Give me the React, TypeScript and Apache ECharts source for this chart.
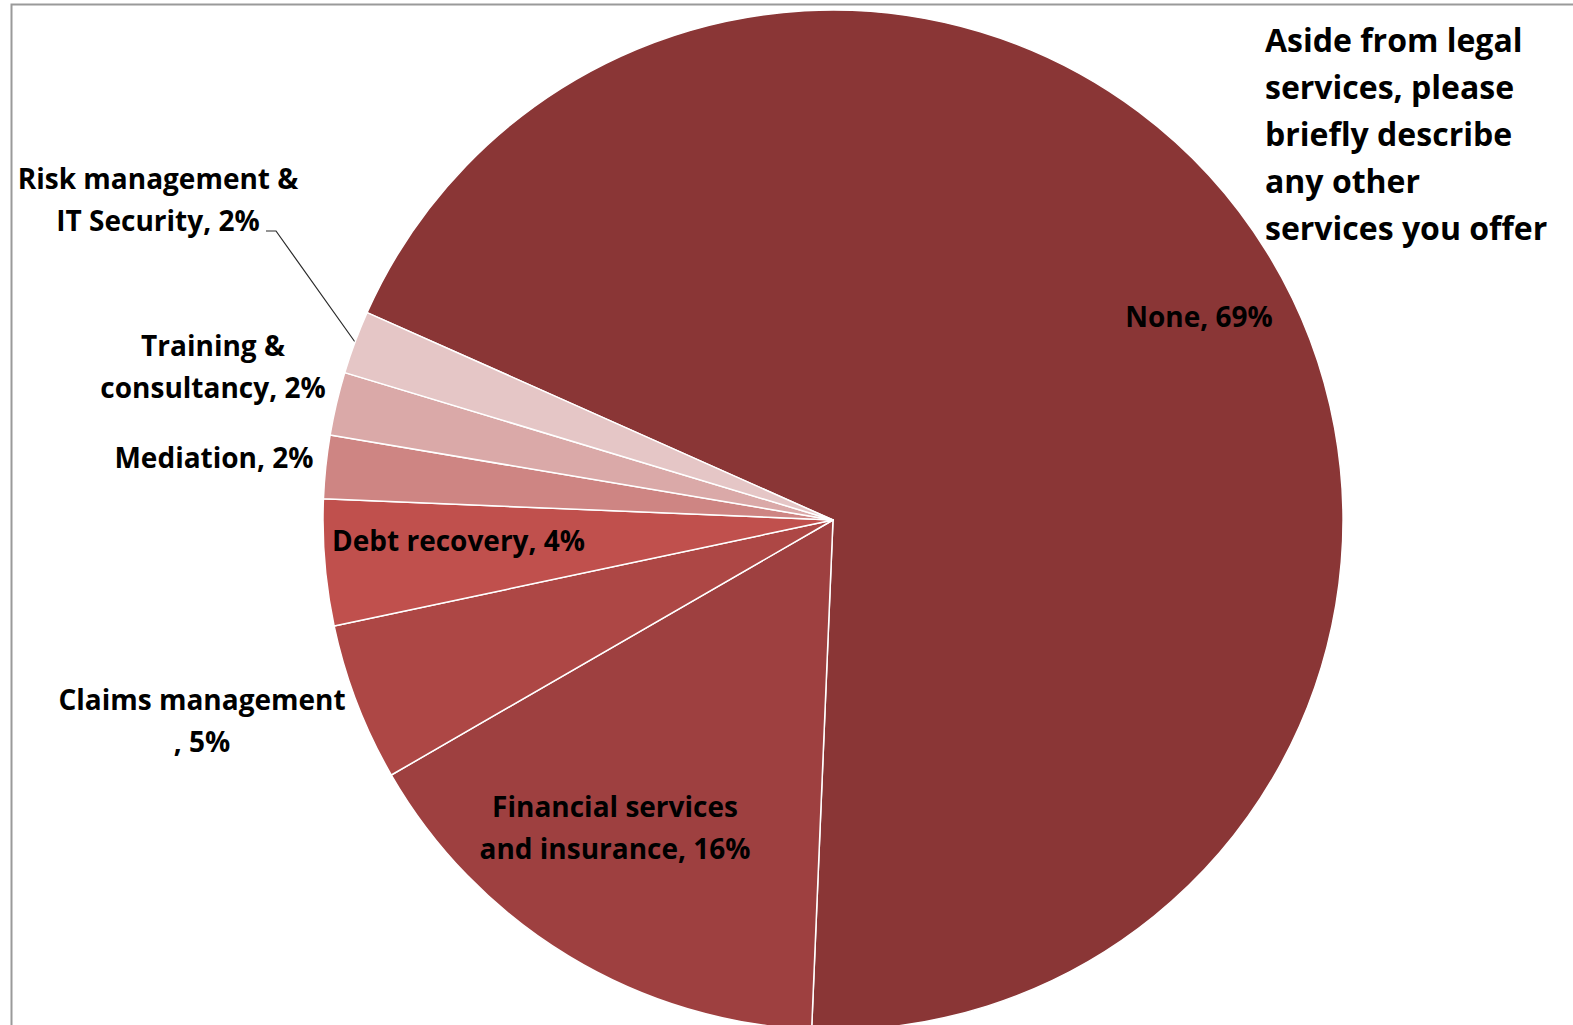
import React, { useEffect, useRef } from "react";
import * as echarts from "echarts";

const categories = [
  "None",
  "Financial services and insurance",
  "Claims management",
  "Debt recovery",
  "Mediation",
  "Training & consultancy",
  "Risk management & IT Security",
];
const labelTexts = [
  "None, 69%",
  "Financial services\nand insurance, 16%",
  "Claims management\n, 5%",
  "Debt recovery, 4%",
  "Mediation, 2%",
  "Training &\nconsultancy, 2%",
  "Risk management &\nIT Security, 2%",
];
const values = [69, 16, 5, 4, 2, 2, 2];
const colors = ["#8A3636", "#9E4040", "#AD4745", "#C0504D", "#CE8583", "#DAA9A8", "#E5C6C6"];
const titleText = "Aside from legal\nservices, please\nbriefly describe\nany other\nservices you offer";

// label anchor positions (x, y, align)
const labelPos: [number, number, string][] = [
  [1199, 316, "center"],
  [615, 827, "center"],
  [202, 720, "center"],
  [332, 540, "left"],
  [214, 457, "center"],
  [213, 366, "center"],
  [158, 199, "center"],
];
const riskLine = [
  [355, 342],
  [276, 231],
  [266, 231],
];

const FONT = "Open Sans";

export default function App() {
  const ref = useRef<HTMLDivElement>(null);
  useEffect(() => {
    document.body.style.margin = "0";
    const chart = echarts.init(ref.current!, undefined, { renderer: "svg" });
    chart.setOption({
      animation: false,
      backgroundColor: "#ffffff",
      title: {
        text: titleText,
        left: 1265,
        top: 16,
        padding: 0,
        textStyle: {
          fontFamily: FONT,
          fontWeight: "bold",
          fontSize: 32,
          lineHeight: 47,
          color: "#000000",
        },
      },
      graphic: [
        {
          type: "rect",
          z: -10,
          shape: { x: 11.5, y: 4.5, width: 1700, height: 1200 },
          style: { fill: "none", stroke: "#9a9a9a", lineWidth: 2 },
        },
      ],
      series: [
        {
          type: "pie",
          center: [833, 520],
          radius: 510,
          startAngle: 156,
          clockwise: true,
          avoidLabelOverlap: false,
          data: categories.map((name, i) => ({
            name,
            value: values[i],
            itemStyle: { color: colors[i] },
            label: { position: i === 0 || i === 1 || i === 3 ? "inside" : "outside" },
            labelLine: {
              show: i === 6,
              lineStyle: { color: "#2a2a2a", width: 1.2 },
            },
          })),
          itemStyle: { borderColor: "#ffffff", borderWidth: 1.5 },
          label: {
            show: true,
            formatter: (p: any) => labelTexts[p.dataIndex],
            fontFamily: FONT,
            fontWeight: "bold",
            fontSize: 28,
            lineHeight: 42,
            color: "#000000",
            align: "center",
          },
          labelLayout: (p: any) => {
            const pos = labelPos[p.dataIndex];
            const res: any = {
              x: pos[0],
              y: pos[1],
              align: pos[2],
              verticalAlign: "middle",
            };
            if (p.dataIndex === 6) res.labelLinePoints = riskLine;
            return res;
          },
        },
      ],
    });
    return () => chart.dispose();
  }, []);
  return (
    <div
      ref={ref}
      style={{ position: "fixed", left: 0, top: 0, width: 1573, height: 1025 }}
    />
  );
}
